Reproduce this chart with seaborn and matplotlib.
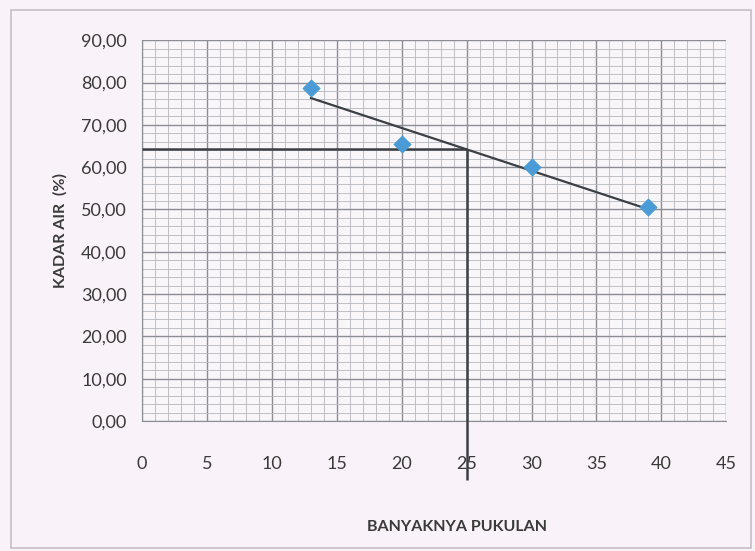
"""
Grafik batas cair: kadar air vs banyaknya pukulan.
"""

import matplotlib.pyplot as plt
import numpy as np
import pandas as pd
import seaborn as sns
from matplotlib.patches import Rectangle
from matplotlib.ticker import FuncFormatter, MultipleLocator

# ============================================================================
# DATA
# ============================================================================

pukulan = [13, 20, 30, 39]
kadar_air = [78.8, 65.5, 60.0, 50.5]
pukulan_acuan = 25  # jumlah pukulan standar untuk batas cair

x_ticks = list(range(0, 50, 5))
y_ticks = list(range(0, 100, 10))

df = pd.DataFrame({"pukulan": pukulan, "kadar_air": kadar_air})

# garis tren linear (seperti trendline Excel)
slope, intercept = np.polyfit(df["pukulan"], df["kadar_air"], 1)
batas_cair = slope * pukulan_acuan + intercept

# ============================================================================
# PLOT
# ============================================================================

sns.set_style("white")
plt.rcParams["font.family"] = ["Lato", "DejaVu Sans"]

bg = "#f9f3f9"
fig = plt.figure(figsize=(7.55, 5.51), dpi=100, facecolor=bg)
ax = fig.add_axes([0.188, 0.236, 0.774, 0.691])
ax.set_facecolor("#f9f6fa")

# bingkai chart
fig.patches.append(
    Rectangle((0.015, 0.006), 0.98, 0.976, transform=fig.transFigure,
              fill=False, edgecolor="#c4c0c6", linewidth=1.2)
)

# grid kertas milimeter
ax.xaxis.set_major_locator(MultipleLocator(5))
ax.xaxis.set_minor_locator(MultipleLocator(1))
ax.yaxis.set_major_locator(MultipleLocator(10))
ax.yaxis.set_minor_locator(MultipleLocator(2))
ax.grid(which="major", color="#8c8e94", linewidth=1.0)
ax.grid(which="minor", color="#b6b8be", linewidth=0.6)
ax.set_axisbelow(True)

sns.regplot(
    data=df, x="pukulan", y="kadar_air", ci=None, ax=ax,
    scatter=False, line_kws={"color": "#3c4044", "linewidth": 1.6},
)
sns.scatterplot(
    data=df, x="pukulan", y="kadar_air", ax=ax, marker="D", s=75,
    color="#4a9bd6", edgecolor="#4a9bd6", zorder=5,
)

# garis bantu batas cair
ax.hlines(batas_cair, 0, pukulan_acuan, color="#3c4044", linewidth=1.8, zorder=4)
ax.vlines(pukulan_acuan, -14, batas_cair, color="#3c4044", linewidth=1.8,
          zorder=4, clip_on=False)

ax.set_xlim(0, 45)
ax.set_ylim(0, 90)
ax.set_xticks(x_ticks)
ax.set_yticks(y_ticks)
ax.yaxis.set_major_formatter(FuncFormatter(lambda v, _: f"{v:.2f}".replace(".", ",")))
ax.tick_params(axis="both", which="major", length=5, color="#8c8e94",
               labelsize=13, labelcolor="#3a3a3a", direction="out")
ax.tick_params(axis="x", which="major", pad=20)
ax.tick_params(axis="y", which="major", pad=6)
ax.tick_params(which="minor", length=0)

for side in ["top", "right"]:
    ax.spines[side].set_visible(False)
for side in ["left", "bottom"]:
    ax.spines[side].set_color("#8c8e94")

ax.set_xlabel("BANYAKNYA PUKULAN", fontsize=11.5, fontweight="bold",
              color="#3a3a3a")
ax.set_ylabel("KADAR AIR  (%)", fontsize=11.5, fontweight="bold",
              color="#3a3a3a")
ax.xaxis.set_label_coords(0.54, -0.26)
ax.yaxis.set_label_coords(-0.128, 0.5)

plt.savefig("out.png", dpi=100, facecolor=bg)
plt.close()
